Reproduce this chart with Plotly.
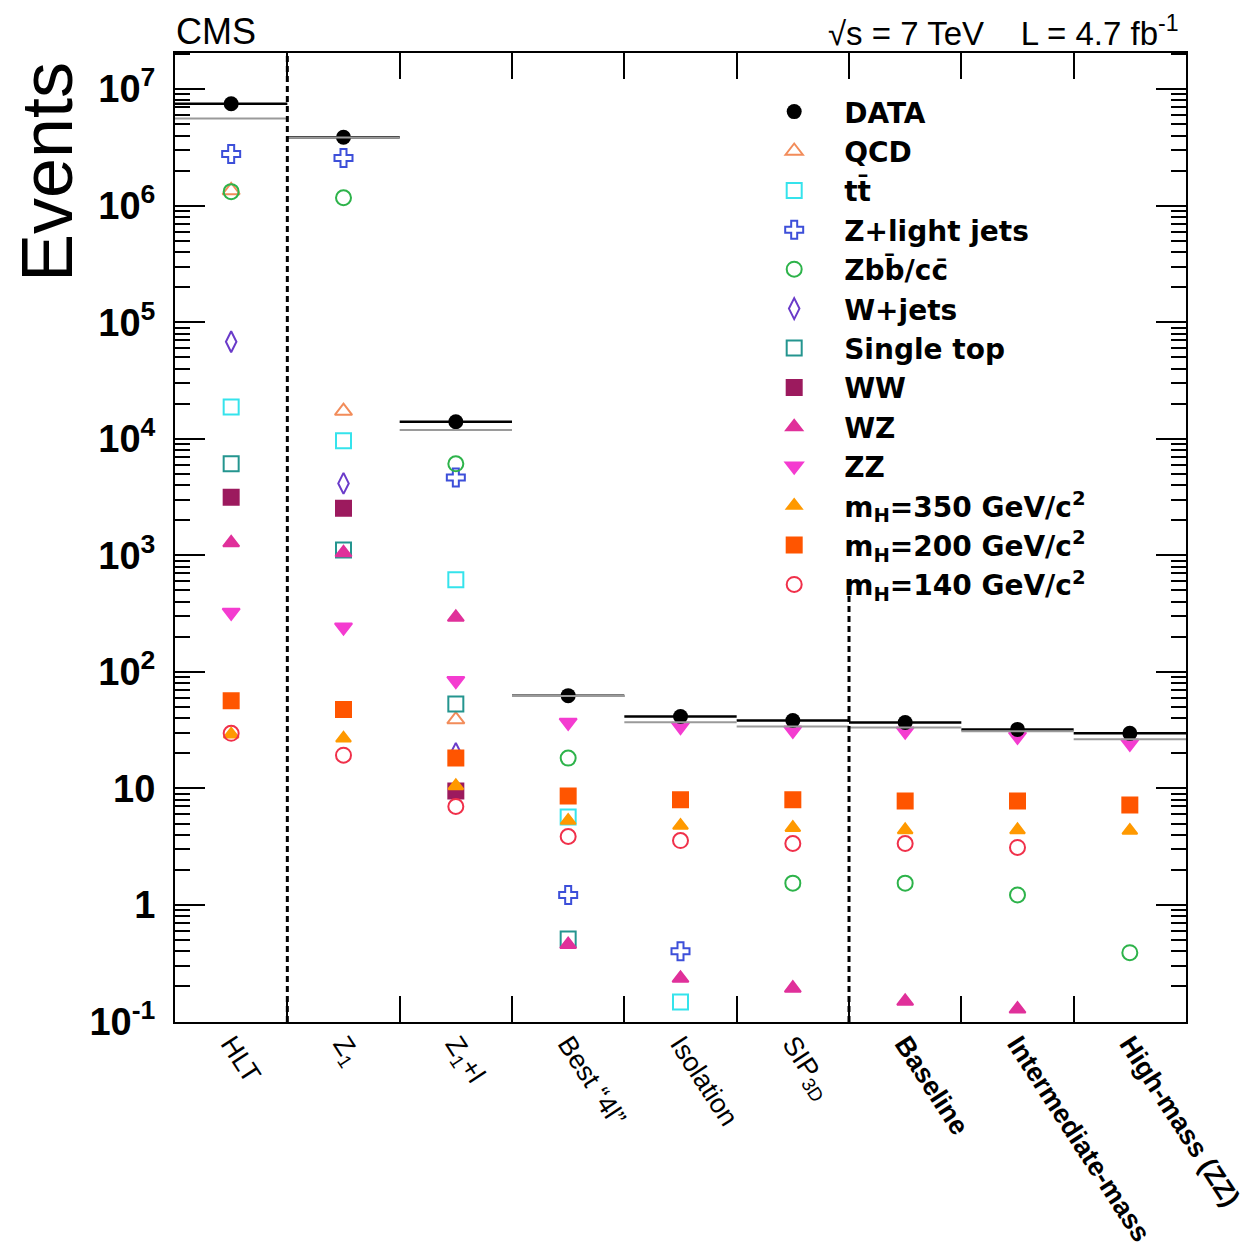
import plotly.graph_objects as go

categories = ["HLT", "Z<sub>1</sub>", "Z<sub>1</sub>+l", "Best “4l”", "Isolation",
              "SIP<sub>3D</sub>", "<b>Baseline</b>", "<b>Intermediate-mass</b>", "<b>High-mass (ZZ)</b>"]
x_pos = [0.5, 1.5, 2.5, 3.5, 4.5, 5.5, 6.5, 7.5, 8.5]
boundaries = [1, 2, 3, 4, 5, 6, 7, 8]

data_vals = [7.5e6, 3.87e6, 1.40e4, 62.5, 41.4, 38.3, 36.8, 32.1, 29.7]
mc_total = [5.6e6, 3.85e6, 1.19e4, 62.0, 37.0, 34.0, 33.4, 31.0, 26.4]

qcd = [1.35e6, 1.73e4, 39, None, None, None, None, None, None]
ttbar = [1.87e4, 9.6e3, 618, 5.7, 0.147, None, None, None, None]
z_light = [2.77e6, 2.56e6, 4.66e3, 1.22, 0.40, None, None, None, None]
zbb = [1.32e6, 1.17e6, 6.1e3, 18.2, None, 1.54, 1.54, 1.22, 0.39]
w_jets = [6.8e4, 4.14e3, 20, None, None, None, None, None, None]
single_top = [6.1e3, 1.11e3, 53, 0.51, None, None, None, None, None]
ww = [3.15e3, 2.54e3, 9.5, None, None, None, None, None, None]
wz = [1.28e3, 1.05e3, 294, 0.457, 0.235, 0.193, 0.149, 0.128, None]
zz = [324, 242, 84, 36.8, 34, 31.5, 31, 28, 24.4]
mh350 = [29.1, 26.9, 10.5, 5.3, 4.8, 4.6, 4.4, 4.4, 4.35]
mh200 = [56.6, 47.5, 18.2, 8.6, 8.0, 8.0, 7.8, 7.8, 7.2]
mh140 = [29.7, 19.3, 7.0, 3.87, 3.57, 3.37, 3.37, 3.12, None]

ytick_vals = [0.1, 1, 10, 100, 1e3, 1e4, 1e5, 1e6, 1e7]
ytick_text = ["10<sup>-1</sup>", "1", "10", "10<sup>2</sup>", "10<sup>3</sup>",
              "10<sup>4</sup>", "10<sup>5</sup>", "10<sup>6</sup>", "10<sup>7</sup>"]

series = [
    ("QCD", qcd, "triangle-up-open", "#F28C5A", 15),
    ("tt̄", ttbar, "square-open", "#35E3EC", 15),
    ("Z+light jets", z_light, "cross-open", "#3D4FD9", 15),
    ("Zbb̄/cc̄", zbb, "circle-open", "#2DB34A", 15),
    ("W+jets", w_jets, "diamond-tall-open", "#6A3BC9", 15),
    ("Single top", single_top, "square-open", "#24958F", 15),
    ("WW", ww, "square", "#9C1A5E", 15),
    ("WZ", wz, "triangle-up", "#E0309A", 14),
    ("ZZ", zz, "triangle-down", "#F43CD0", 15),
    ("m<sub>H</sub>=350 GeV/c<sup>2</sup>", mh350, "triangle-up", "#FF9900", 13),
    ("m<sub>H</sub>=200 GeV/c<sup>2</sup>", mh200, "square", "#FF5500", 15),
    ("m<sub>H</sub>=140 GeV/c<sup>2</sup>", mh140, "circle-open", "#F0304A", 15),
]

fig = go.Figure()

# MC total (gray bin lines)
fig.add_trace(go.Scatter(
    x=x_pos, y=mc_total, mode="markers", xaxis="x2",
    marker=dict(size=1, color="rgba(0,0,0,0)"),
    error_x=dict(type="data", array=[0.5] * 9, color="#9a9a9a", thickness=2, width=0),
    showlegend=False, hoverinfo="skip"))

for i, (name, vals, sym, col, sz) in enumerate(series):
    fig.add_trace(go.Scatter(
        x=x_pos, y=vals, mode="markers", name=name, legendrank=i + 2,
        marker=dict(symbol=sym, size=sz, color=col, line=dict(color=col, width=2))))

fig.add_trace(go.Scatter(
    x=x_pos, y=data_vals, mode="markers", name="DATA", legendrank=1,
    marker=dict(symbol="circle", size=15, color="black"),
    error_x=dict(type="data", array=[0.5] * 9, color="black", thickness=2.5, width=0)))

fig.update_layout(
    width=1250, height=1253,
    paper_bgcolor="white", plot_bgcolor="white",
    margin=dict(l=167, r=72, t=45, b=239),
    font=dict(family="Liberation Sans, Arial, sans-serif", color="black"),
    xaxis=dict(range=[0, 9], tickvals=boundaries, ticks="inside", ticklen=26, tickwidth=2,
               tickcolor="black", showticklabels=False, showline=True, linecolor="black",
               linewidth=2, mirror="ticks", showgrid=False, zeroline=False),
    xaxis2=dict(range=[0, 9], overlaying="x", side="bottom", anchor="y", matches="x",
                tickvals=x_pos, ticktext=categories, ticks="", tickangle=57,
                tickfont=dict(size=27, family="Liberation Sans, Arial"),
                showline=False, showgrid=False, zeroline=False),
    yaxis=dict(type="log", range=[-1.004, 7.31], tickvals=ytick_vals, ticktext=ytick_text,
               ticks="inside", ticklen=30, tickwidth=2, tickcolor="black",
               minor=dict(ticks="inside", dtick="D1", ticklen=15, tickwidth=2,
                          tickcolor="black", showgrid=False),
               tickfont=dict(size=38, weight="bold"), ticklabelstandoff=10,
               showline=True, linecolor="black", linewidth=2, mirror="ticks",
               showgrid=False, zeroline=False),
    legend=dict(x=0.563, y=0.965, xanchor="left", yanchor="top", bgcolor="rgba(0,0,0,0)",
                font=dict(size=28, weight="bold", family="DejaVu Sans, Liberation Sans"),
                itemwidth=90, tracegroupgap=0),
    shapes=[
        dict(type="line", xref="x", yref="paper", x0=1, x1=1, y0=0, y1=1,
             line=dict(color="black", width=3, dash="6px,4px")),
        dict(type="line", xref="x", yref="paper", x0=6, x1=6, y0=0, y1=0.446,
             line=dict(color="black", width=3, dash="6px,4px")),
    ],
    annotations=[
        dict(text="CMS", xref="paper", yref="paper", x=0.0, y=1.0, xanchor="left", yanchor="bottom",
             yshift=0, showarrow=False, font=dict(size=36), borderpad=0),
        dict(text="√s = 7 TeV    L = 4.7 fb<sup>-1</sup>", xref="paper", yref="paper", x=0.994, y=1.0,
             xanchor="right", yanchor="bottom", yshift=0, showarrow=False, font=dict(size=33),
             borderpad=0),
        dict(text="Events", xref="paper", yref="paper", x=(47 - 175) / 1011, y=(1022 - 172) / 969,
             xanchor="center", yanchor="middle", textangle=-90, showarrow=False, font=dict(size=72),
             borderpad=0),
    ],
)

fig.write_html("out.html")
